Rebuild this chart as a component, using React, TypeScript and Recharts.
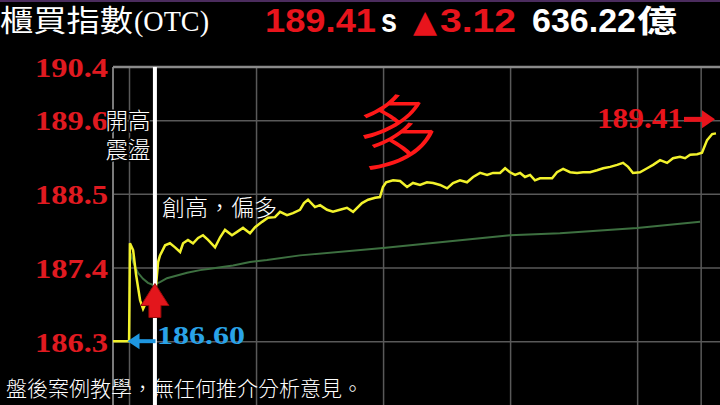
import React from "react";
import { LineChart, Line, XAxis, YAxis, ReferenceLine, ReferenceDot } from "recharts";

// ---- data (minutes after 09:00, index value) ----
const priceTimes = [-7.8, -0.2, 0.2, 1.7, 3.1, 5.0, 6.4, 8.3, 10.6, 12.5, 13.5, 14.4, 16.8, 19.1, 21.5, 23.9, 25.3, 27.6, 30.0, 32.4, 34.7, 37.1, 40.4, 42.8, 45.1, 48.4, 50.8, 53.6, 56.9, 59.3, 62.6, 65.4, 68.7, 71.1, 74.4, 77.2, 80.5, 82.4, 84.3, 87.6, 90.0, 93.3, 96.1, 99.4, 102.7, 105.6, 109.8, 112.7, 116.0, 118.3, 119.7, 121.2, 124.5, 127.8, 131.1, 133.9, 137.2, 140.5, 143.4, 146.7, 150.0, 152.8, 156.1, 159.4, 162.3, 165.6, 168.9, 171.7, 175.0, 177.4, 179.7, 182.1, 184.5, 186.8, 189.2, 191.5, 193.9, 197.2, 199.6, 201.9, 204.8, 208.1, 211.4, 214.2, 217.5, 220.8, 223.7, 227.0, 230.3, 233.1, 235.5, 237.8, 241.1, 244.5, 247.3, 250.6, 253.9, 256.7, 260.0, 262.4, 264.8, 268.1, 270.4, 272.8, 275.2, 277.0];
const priceValues = [186.31, 186.31, 187.77, 187.67, 187.30, 186.92, 186.79, 186.92, 187.07, 187.13, 187.49, 187.59, 187.74, 187.77, 187.71, 187.64, 187.77, 187.82, 187.77, 187.85, 187.89, 187.82, 187.71, 187.86, 187.97, 187.89, 187.94, 188.00, 187.92, 188.01, 188.09, 188.15, 188.16, 188.24, 188.19, 188.22, 188.27, 188.37, 188.42, 188.31, 188.34, 188.27, 188.24, 188.27, 188.30, 188.24, 188.37, 188.42, 188.45, 188.46, 188.61, 188.68, 188.71, 188.70, 188.61, 188.67, 188.64, 188.68, 188.67, 188.64, 188.59, 188.67, 188.71, 188.68, 188.76, 188.82, 188.79, 188.82, 188.82, 188.89, 188.83, 188.79, 188.82, 188.76, 188.79, 188.71, 188.74, 188.74, 188.74, 188.83, 188.88, 188.83, 188.82, 188.83, 188.83, 188.86, 188.89, 188.91, 188.94, 188.97, 188.91, 188.82, 188.83, 188.89, 188.94, 189.01, 188.97, 189.04, 189.06, 189.04, 189.09, 189.10, 189.12, 189.31, 189.40, 189.41];

const avgTimes = [0.5, 1.7, 4.0, 6.4, 8.7, 11.1, 14.4, 17.7, 27.2, 33.3, 38.0, 48.9, 56.9, 64.9, 80.5, 119.7, 151.4, 179.7, 203.3, 239.7, 269.5];
const avgValues = [187.62, 187.49, 187.33, 187.24, 187.18, 187.15, 187.19, 187.25, 187.33, 187.37, 187.39, 187.44, 187.49, 187.52, 187.59, 187.70, 187.80, 187.89, 187.92, 188.00, 188.09];

const yTicks = [190.4, 189.6, 188.5, 187.4, 186.3, 185.2];
const yDomain = [185.0, 190.4];
const xDomain = [-7.8, 278.9];
const hourTimes = [0, 60, 120, 180, 240, 270];
const refPrice = 186.3;

// annotation anchors
const markTime = 12; // 09:12 white marker
const lowPoint = { t: 12, v: 187.17 };
const openPoint = { t: 0, v: 186.31, label: "186.60" };
const closePoint = { t: 277.0, v: 189.41, label: "189.41" };

// header
const titleText = "櫃買指數";
const titleCode = "(OTC)";
const closeText = "189.41";
const changeText = "3.12";
const volumeText = "636.22";
const volumeUnit = "億";
const noteLeft = ["開高", "震盪"];
const noteMid = "創高，偏多";
const noteBig = "多";
const disclaimer = "盤後案例教學，無任何推介分析意見。";

const priceData = priceTimes.map((t, i) => ({ t, v: priceValues[i] }));
const avgData = avgTimes.map((t, i) => ({ t, a: avgValues[i] }));

const RED = "#e8141c";
const GRID = "#595959";

const YTick = (props: any) => {
  const { x, y, payload } = props;
  const val = payload.value as number;
  const color = val >= refPrice ? "#e01a20" : "#18a030";
  return (
    <text
      x={x}
      y={y}
      dy="0.35em"
      textAnchor="end"
      fill={color}
      fontFamily="'Liberation Serif', serif"
      fontWeight="bold"
      fontSize={28}
      textLength={73}
      lengthAdjust="spacingAndGlyphs"
    >
      {val.toFixed(1)}
    </text>
  );
};

const BlueLabel = (props: any) => {
  const { cx, cy } = props;
  return (
    <g>
      <line x1={cx + 2} y1={cy} x2={cx + 26} y2={cy} stroke="#1e96e0" strokeWidth={4} />
      <polygon points={`${cx - 2},${cy} ${cx + 10},${cy - 8} ${cx + 10},${cy + 8}`} fill="#1e96e0" />
      <text
        x={cx + 27.5}
        y={cy + 3}
        fill="#2aa3e8"
        fontFamily="'Liberation Serif', serif"
        fontWeight="bold"
        fontSize={25}
        textLength={88}
        lengthAdjust="spacingAndGlyphs"
      >
        {openPoint.label}
      </text>
    </g>
  );
};

const UpArrow = (props: any) => {
  const { cx, cy } = props;
  return (
    <polygon
      points={`${cx},${cy} ${cx + 14},${cy + 22} ${cx + 6},${cy + 22} ${cx + 6},${cy + 34} ${cx - 6},${cy + 34} ${cx - 6},${cy + 22} ${cx - 14},${cy + 22}`}
      fill="#e3161c"
      stroke="#9a0a0a"
      strokeWidth={1}
    />
  );
};

const CloseLabel = (props: any) => {
  const { cx, cy } = props;
  const ay = cy - 14;
  return (
    <g>
      <text
        x={cx - 33}
        y={cy - 5}
        textAnchor="end"
        fill={RED}
        fontFamily="'Liberation Serif', serif"
        fontWeight="bold"
        fontSize={29}
        textLength={86}
        lengthAdjust="spacingAndGlyphs"
      >
        {closePoint.label}
      </text>
      <line x1={cx - 32} y1={ay} x2={cx - 10} y2={ay} stroke={RED} strokeWidth={5} />
      <polygon points={`${cx - 1},${ay} ${cx - 14},${ay - 9} ${cx - 14},${ay + 9}`} fill={RED} />
    </g>
  );
};

export default function App() {
  return (
    <div
      style={{
        position: "fixed",
        left: 0,
        top: 0,
        width: 720,
        height: 405,
        overflow: "hidden",
        background: "#000",
      }}
    >
      <LineChart width={720} height={429} margin={{ top: 67, right: 0, bottom: 0, left: 0 }}>
        <XAxis type="number" dataKey="t" domain={xDomain} allowDataOverflow hide ticks={hourTimes} />
        <YAxis
          type="number"
          domain={yDomain}
          ticks={yTicks}
          allowDataOverflow
          width={113}
          axisLine={false}
          tickLine={false}
          tickSize={0}
          tickMargin={5}
          tick={<YTick />}
          interval={0}
        />
        {yTicks.slice(1).map((v) => (
          <ReferenceLine key={"h" + v} y={v} stroke={GRID} strokeWidth={1.5} />
        ))}
        {hourTimes.map((t) => (
          <ReferenceLine key={"v" + t} x={t} stroke={GRID} strokeWidth={1.5} />
        ))}
        <ReferenceLine x={xDomain[0]} stroke="#7a7a7a" strokeWidth={2} />
        <ReferenceLine y={yDomain[1]} stroke="#8a8a8a" strokeWidth={2.5} />
        <Line
          data={avgData}
          dataKey="a"
          type="linear"
          stroke="#3d7040"
          strokeWidth={2}
          dot={false}
          isAnimationActive={false}
        />
        <Line
          data={priceData}
          dataKey="v"
          type="linear"
          stroke="#f2f22c"
          strokeWidth={2.5}
          dot={false}
          isAnimationActive={false}
        />
        <ReferenceLine x={markTime} stroke="#ffffff" strokeWidth={4} />
        <ReferenceDot x={openPoint.t} y={openPoint.v} r={0} shape={BlueLabel} ifOverflow="visible" />
        <ReferenceDot x={lowPoint.t} y={lowPoint.v} r={0} shape={UpArrow} ifOverflow="visible" />
        <ReferenceDot x={closePoint.t} y={closePoint.v} r={0} shape={CloseLabel} ifOverflow="visible" />
      </LineChart>
      <svg
        width={720}
        height={405}
        style={{ position: "absolute", left: 0, top: 0, pointerEvents: "none" }}
      >
        <rect x={0} y={0} width={720} height={2} fill="#4b2c5e" />
        <text x={0} y={31} fill="#fff" fontFamily="'Noto Sans CJK TC', sans-serif" fontSize={30} textLength={133} lengthAdjust="spacingAndGlyphs">
          {titleText}
        </text>
        <text x={134} y={31} fill="#fff" fontFamily="'Liberation Serif', serif" fontSize={30} textLength={75} lengthAdjust="spacingAndGlyphs">
          {titleCode}
        </text>
        <text x={265} y={32} fill={RED} fontFamily="'Liberation Sans', sans-serif" fontWeight="bold" fontSize={33} textLength={111} lengthAdjust="spacingAndGlyphs">
          {closeText}
        </text>
        <text x={381} y={32} fill="#fff" fontFamily="'Liberation Sans', sans-serif" fontWeight="bold" fontSize={33} textLength={16} lengthAdjust="spacingAndGlyphs">
          s
        </text>
        <text x={413} y={32} fill={RED} fontFamily="'DejaVu Sans', sans-serif" fontSize={31} textLength={24} lengthAdjust="spacingAndGlyphs">
          ▲
        </text>
        <text x={440} y={32} fill={RED} fontFamily="'Liberation Sans', sans-serif" fontWeight="bold" fontSize={33} textLength={76} lengthAdjust="spacingAndGlyphs">
          {changeText}
        </text>
        <text x={532} y={32} fill="#fff" fontFamily="'Liberation Sans', sans-serif" fontWeight="bold" fontSize={33} textLength={104} lengthAdjust="spacingAndGlyphs">
          {volumeText}
        </text>
        <text x={637} y={32} fill="#fff" fontFamily="'Noto Sans CJK TC', sans-serif" fontWeight="bold" fontSize={31} textLength={40} lengthAdjust="spacingAndGlyphs">
          {volumeUnit}
        </text>
        <text x={128} y={129} textAnchor="middle" fill="#fff" stroke="#000" strokeWidth={3} paintOrder="stroke" fontFamily="'Noto Sans CJK TC', sans-serif" fontWeight={300} fontSize={22.5}>
          {noteLeft[0]}
        </text>
        <text x={128} y={158} textAnchor="middle" fill="#fff" stroke="#000" strokeWidth={3} paintOrder="stroke" fontFamily="'Noto Sans CJK TC', sans-serif" fontWeight={300} fontSize={22.5}>
          {noteLeft[1]}
        </text>
        <text x={162} y={216} fill="#fff" fontFamily="'Noto Sans CJK TC', sans-serif" fontWeight={300} fontSize={23}>
          {noteMid}
        </text>
        <text x={398} y={163} textAnchor="middle" fill="#ff1818" fontFamily="'Noto Sans CJK TC', sans-serif" fontWeight={300} fontSize={82}>
          {noteBig}
        </text>
        <text x={6} y={396} fill="#fff" fontFamily="'Noto Sans CJK TC', sans-serif" fontWeight={300} fontSize={21}>
          {disclaimer}
        </text>
      </svg>
    </div>
  );
}
